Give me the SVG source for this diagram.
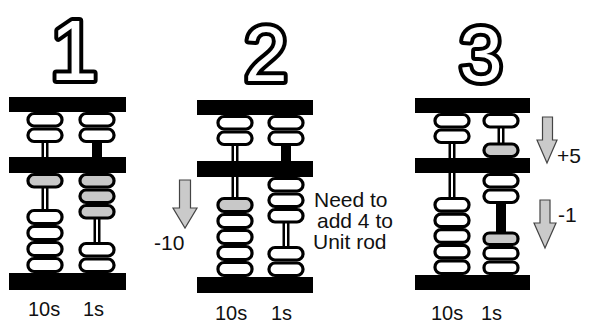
<svg xmlns="http://www.w3.org/2000/svg" width="589" height="324" viewBox="0 0 589 324">
  <style>
    .bar { fill: #000; }
    .bead { fill: #fff; stroke: #000; stroke-width: 3.2; }
    .bead.on { fill: #c8c8c8; }
    .rod { fill: #000; }
    .core { fill: #fff; }
    .num { font-family: "Liberation Sans", Arial, sans-serif; fill: #fff; stroke: #000; stroke-width: 8; stroke-linejoin: round; paint-order: stroke; text-anchor: middle; }
    .lbl { font-family: "Liberation Sans", Arial, sans-serif; font-size: 20px; fill: #111; }
    .note { font-family: "Liberation Sans", Arial, sans-serif; font-size: 21px; fill: #111; }
    .arrow { fill: #cacaca; stroke: #444; stroke-width: 1.2; stroke-linejoin: miter; }
  </style>

  <!-- Step 1 -->
  <g id="abacus1">
    <text class="num" x="74" y="80" font-size="86">1</text>
    <!-- rods -->
    <rect class="rod" x="41.5" y="143" width="7" height="14"/><rect class="core" x="44" y="143" width="2" height="14"/>
    <rect class="rod" x="92" y="143" width="10" height="14"/>
    <rect class="rod" x="41.5" y="188" width="7" height="21"/><rect class="core" x="44" y="188" width="2" height="21"/>
    <rect class="rod" x="93.5" y="219" width="7" height="23"/><rect class="core" x="96" y="219" width="2" height="23"/>
    <!-- frame -->
    <rect class="bar" x="9" y="97" width="117" height="15"/>
    <rect class="bar" x="9" y="157" width="117" height="16"/>
    <rect class="bar" x="9" y="273" width="117" height="17"/>
    <!-- tens -->
    <rect class="bead" x="28" y="113.5" width="34" height="12.5" rx="6"/>
    <rect class="bead" x="28" y="129" width="34" height="12.5" rx="6"/>
    <rect class="bead on" x="28" y="174.5" width="34" height="12.5" rx="6"/>
    <rect class="bead" x="28" y="210.5" width="34" height="13" rx="6"/>
    <rect class="bead" x="28" y="226.5" width="34" height="13" rx="6"/>
    <rect class="bead" x="28" y="242.5" width="34" height="13" rx="6"/>
    <rect class="bead" x="28" y="258.5" width="34" height="13" rx="6"/>
    <!-- units -->
    <rect class="bead" x="80" y="113.5" width="34" height="12.5" rx="6"/>
    <rect class="bead" x="80" y="129" width="34" height="12.5" rx="6"/>
    <rect class="bead on" x="80" y="174.5" width="34" height="12.5" rx="6"/>
    <rect class="bead on" x="80" y="190" width="34" height="12.5" rx="6"/>
    <rect class="bead on" x="80" y="205.5" width="34" height="12.5" rx="6"/>
    <rect class="bead" x="80" y="243.5" width="34" height="12.5" rx="6"/>
    <rect class="bead" x="80" y="259" width="34" height="12.5" rx="6"/>
    <text class="lbl" x="28" y="316">10s</text>
    <text class="lbl" x="83" y="316">1s</text>
  </g>

  <!-- Step 2 -->
  <g id="abacus2">
    <text class="num" x="266" y="81" font-size="78">2</text>
    <rect class="rod" x="231.5" y="146" width="7" height="15"/><rect class="core" x="234" y="146" width="2" height="15"/>
    <rect class="rod" x="281" y="146" width="10" height="15"/>
    <rect class="rod" x="231.5" y="177" width="7" height="20"/><rect class="core" x="234" y="177" width="2" height="20"/>
    <rect class="rod" x="282.5" y="223" width="7" height="23"/><rect class="core" x="285" y="223" width="2" height="23"/>
    <rect class="bar" x="197" y="100" width="116" height="15"/>
    <rect class="bar" x="197" y="161" width="116" height="16"/>
    <rect class="bar" x="197" y="277" width="116" height="16"/>
    <rect class="bead" x="218" y="116.5" width="34" height="12.5" rx="6"/>
    <rect class="bead" x="218" y="132" width="34" height="12.5" rx="6"/>
    <rect class="bead on" x="218" y="198.5" width="34" height="13" rx="6"/>
    <rect class="bead" x="218" y="214.5" width="34" height="13" rx="6"/>
    <rect class="bead" x="218" y="230.5" width="34" height="13" rx="6"/>
    <rect class="bead" x="218" y="246.5" width="34" height="13" rx="6"/>
    <rect class="bead" x="218" y="262.5" width="34" height="13" rx="6"/>
    <rect class="bead" x="269" y="116.5" width="34" height="12.5" rx="6"/>
    <rect class="bead" x="269" y="132" width="34" height="12.5" rx="6"/>
    <rect class="bead" x="269" y="178.5" width="34" height="12.5" rx="6"/>
    <rect class="bead" x="269" y="194" width="34" height="12.5" rx="6"/>
    <rect class="bead" x="269" y="209.5" width="34" height="12.5" rx="6"/>
    <rect class="bead" x="269" y="247.5" width="34" height="12.5" rx="6"/>
    <rect class="bead" x="269" y="263" width="34" height="12.5" rx="6"/>
    <text class="lbl" x="215" y="320">10s</text>
    <text class="lbl" x="271" y="320">1s</text>
  </g>

  <!-- Step 3 -->
  <g id="abacus3">
    <text class="num" x="481" y="81" font-size="78">3</text>
    <rect class="rod" x="448.5" y="144" width="7" height="14"/><rect class="core" x="451" y="144" width="2" height="14"/>
    <rect class="rod" x="497.5" y="128" width="7" height="16"/><rect class="core" x="500" y="128" width="2" height="16"/>
    <rect class="rod" x="448.5" y="173" width="7" height="24"/><rect class="core" x="451" y="173" width="2" height="24"/>
    <rect class="rod" x="496" y="204" width="10" height="28"/>
    <rect class="bar" x="415" y="98" width="115" height="15"/>
    <rect class="bar" x="415" y="158" width="115" height="15"/>
    <rect class="bar" x="415" y="275" width="115" height="15"/>
    <rect class="bead" x="435" y="114.5" width="34" height="12.5" rx="6"/>
    <rect class="bead" x="435" y="130" width="34" height="12.5" rx="6"/>
    <rect class="bead" x="435" y="198.5" width="34" height="12.6" rx="6"/>
    <rect class="bead" x="435" y="214.1" width="34" height="12.6" rx="6"/>
    <rect class="bead" x="435" y="229.7" width="34" height="12.6" rx="6"/>
    <rect class="bead" x="435" y="245.3" width="34" height="12.6" rx="6"/>
    <rect class="bead" x="435" y="260.9" width="34" height="12.6" rx="6"/>
    <rect class="bead" x="484" y="114.5" width="34" height="12.5" rx="6"/>
    <rect class="bead on" x="484" y="144" width="34" height="12.5" rx="6"/>
    <rect class="bead" x="484" y="174.5" width="34" height="12.5" rx="6"/>
    <rect class="bead" x="484" y="190" width="34" height="12.5" rx="6"/>
    <rect class="bead on" x="484" y="233" width="34" height="11.5" rx="5.5"/>
    <rect class="bead" x="484" y="247.5" width="34" height="11.5" rx="5.5"/>
    <rect class="bead" x="484" y="262" width="34" height="11.5" rx="5.5"/>
    <text class="lbl" x="431" y="320">10s</text>
    <text class="lbl" x="481" y="320">1s</text>
  </g>

  <!-- movement arrows and notes -->
  <g id="arrows">
    <polygon class="arrow" points="179.5,180 190.5,180 190.5,208 197,208 185,228 173,208 179.5,208"/>
    <polygon class="arrow" points="542.5,117 552.5,117 552.5,140 557,140 547,163 537,140 542.5,140"/>
    <polygon class="arrow" points="540,200 550,200 550,223 556,223 545,248 534,223 540,223"/>
  </g>
  <g id="notes">
    <text class="note" x="154" y="250">-10</text>
    <text class="note" x="314" y="207">Need to</text>
    <text class="note" x="317" y="228">add 4 to</text>
    <text class="note" x="313" y="249">Unit rod</text>
    <text class="note" x="557" y="163">+5</text>
    <text class="note" x="558" y="222">-1</text>
  </g>
</svg>
